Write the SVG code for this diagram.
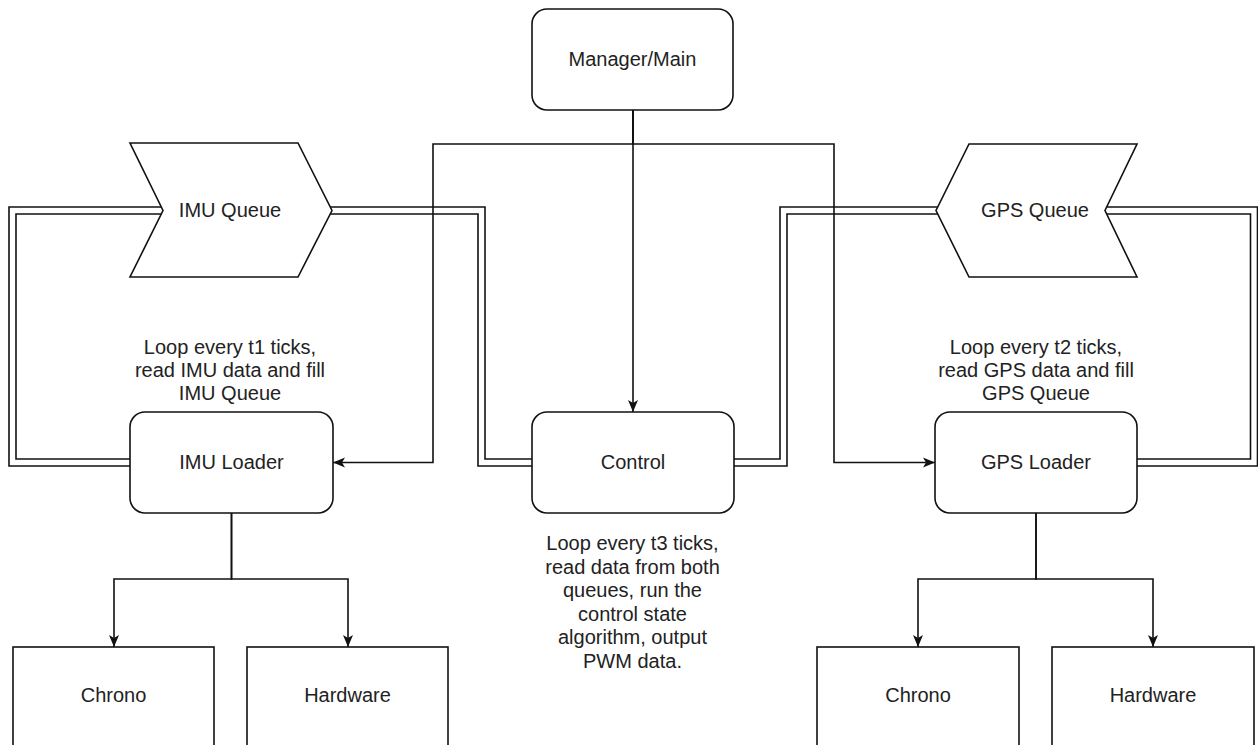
<svg xmlns="http://www.w3.org/2000/svg" width="1258" height="745" viewBox="0 0 1258 745">
  <style>
    .box { fill: #ffffff; stroke: #111111; stroke-width: 1.6; }
    .lbl { font-family: "Liberation Sans", Arial, sans-serif; font-size: 20px; fill: #222222; text-anchor: middle; }
    .edge { fill: none; stroke: #111111; stroke-width: 1.6; }
    .link-outer { fill: none; stroke: #111111; stroke-width: 8.6; stroke-linejoin: miter; }
    .link-inner { fill: none; stroke: #ffffff; stroke-width: 5.4; stroke-linejoin: miter; }
  </style>
  <defs>
    <marker id="arrow" viewBox="0 0 12 12" refX="12" refY="6" markerWidth="12" markerHeight="12" markerUnits="userSpaceOnUse" orient="auto">
      <path d="M0,1 L12,6 L0,11 L3,6 Z" fill="#111111"/>
    </marker>
  </defs>
  <rect width="1258" height="745" fill="#ffffff"/>

  <g id="connectors">
    <!-- double (link) connectors -->
    <path class="link-outer" d="M162,210.5 H12.5 V462.5 H130"/>
    <path class="link-inner" d="M162,210.5 H12.5 V462.5 H130"/>
    <path class="link-outer" d="M330,210.5 H481.5 V462.5 H532"/>
    <path class="link-inner" d="M330,210.5 H481.5 V462.5 H532"/>
    <path class="link-outer" d="M937.5,210.5 H783.5 V462.5 H734"/>
    <path class="link-inner" d="M937.5,210.5 H783.5 V462.5 H734"/>
    <path class="link-outer" d="M1106,210.5 H1254 V462.5 H1137"/>
    <path class="link-inner" d="M1106,210.5 H1254 V462.5 H1137"/>
    <!-- single connectors -->
    <path class="edge" d="M633,110 V412" marker-end="url(#arrow)"/>
    <path class="edge" d="M633,110 V144 H433 V462.5 H333" marker-end="url(#arrow)"/>
    <path class="edge" d="M633,110 V144 H834 V462.5 H935" marker-end="url(#arrow)"/>
    <path class="edge" d="M231.5,513 V579 H114 V647" marker-end="url(#arrow)"/>
    <path class="edge" d="M231.5,513 V579 H348 V647" marker-end="url(#arrow)"/>
    <path class="edge" d="M1036,513 V579 H918 V647" marker-end="url(#arrow)"/>
    <path class="edge" d="M1036,513 V579 H1153 V647" marker-end="url(#arrow)"/>
  </g>

  <g id="manager">
    <rect class="box" x="532" y="9" width="201" height="101" rx="15" ry="15"/>
    <text class="lbl" x="632.5" y="66">Manager/Main</text>
  </g>

  <g id="imu-queue">
    <polygon class="box" points="130,143 298,143 332,210.5 298,277 130,277 163,210.5"/>
    <text class="lbl" x="230" y="217">IMU Queue</text>
  </g>

  <g id="gps-queue">
    <polygon class="box" points="969,144 1137,144 1105,210.5 1137,277 969,277 936,210.5"/>
    <text class="lbl" x="1035" y="217">GPS Queue</text>
  </g>

  <g id="imu-note">
    <text class="lbl" x="230" y="354">Loop every t1 ticks,</text>
    <text class="lbl" x="230" y="377">read IMU data and fill</text>
    <text class="lbl" x="230" y="400">IMU Queue</text>
  </g>

  <g id="gps-note">
    <text class="lbl" x="1036" y="354">Loop every t2 ticks,</text>
    <text class="lbl" x="1036" y="377">read GPS data and fill</text>
    <text class="lbl" x="1036" y="400">GPS Queue</text>
  </g>

  <g id="imu-loader">
    <rect class="box" x="130" y="412" width="203" height="101" rx="15" ry="15"/>
    <text class="lbl" x="231.5" y="469">IMU Loader</text>
  </g>

  <g id="control">
    <rect class="box" x="532" y="412" width="202" height="101" rx="15" ry="15"/>
    <text class="lbl" x="633" y="469">Control</text>
  </g>

  <g id="gps-loader">
    <rect class="box" x="935" y="412" width="202" height="101" rx="15" ry="15"/>
    <text class="lbl" x="1036" y="469">GPS Loader</text>
  </g>

  <g id="control-note">
    <text class="lbl" x="632.5" y="550">Loop every t3 ticks,</text>
    <text class="lbl" x="632.5" y="574">read data from both</text>
    <text class="lbl" x="632.5" y="597">queues, run the</text>
    <text class="lbl" x="632.5" y="621">control state</text>
    <text class="lbl" x="632.5" y="644">algorithm, output</text>
    <text class="lbl" x="632.5" y="668">PWM data.</text>
  </g>

  <g id="imu-chrono">
    <rect class="box" x="13" y="647" width="201" height="110"/>
    <text class="lbl" x="113.5" y="702">Chrono</text>
  </g>

  <g id="imu-hardware">
    <rect class="box" x="247" y="647" width="201" height="110"/>
    <text class="lbl" x="347.5" y="702">Hardware</text>
  </g>

  <g id="gps-chrono">
    <rect class="box" x="817" y="647" width="202" height="110"/>
    <text class="lbl" x="918" y="702">Chrono</text>
  </g>

  <g id="gps-hardware">
    <rect class="box" x="1052" y="647" width="202" height="110"/>
    <text class="lbl" x="1153" y="702">Hardware</text>
  </g>
</svg>
